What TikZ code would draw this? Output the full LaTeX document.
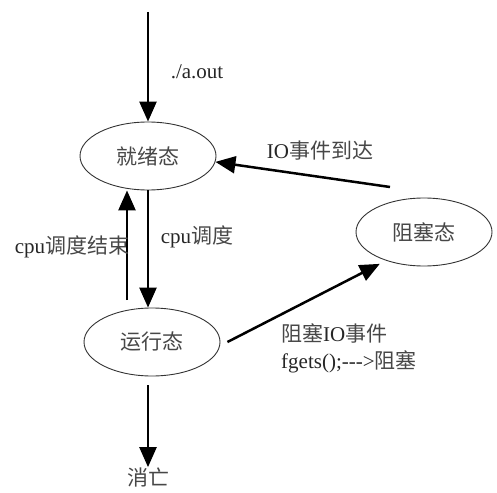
\documentclass[tikz,border=0pt]{standalone}
\usepackage{fontspec}
\setmainfont{Liberation Serif}
\newfontfamily\zhfont{Noto Sans CJK SC}
\usetikzlibrary{arrows.meta, shapes.geometric}
\newcommand{\zh}[1]{{\zhfont\color{black!72}#1}}

\begin{document}
\begin{tikzpicture}[
  x=1pt, y=-1pt,
  state/.style={draw=black!80, ellipse, line width=0.9pt,
                minimum width=136pt, minimum height=68pt,
                font=\fontsize{21}{25}\selectfont},
  arrow/.style={-{Triangle[length=20pt,width=17pt]}, line width=2.5pt},
  label/.style={font=\fontsize{21}{27}\selectfont, text=black!85, inner sep=1pt}
]
\useasboundingbox (0,0) rectangle (497,492);

%% ---- states ----
\node[state] (ready)   at (148,156) {\zh{就绪态}};
\node[state] (blocked) at (424,232) {\zh{阻塞态}};
\node[state] (running) at (152,342) {\zh{运行态}};
\node[label] (dead)    at (148,478) {\zh{消亡}};

%% ---- free ends ----
\coordinate (start)  at (148,12);
\coordinate (back)   at (127,300);
\coordinate (wakeup) at (390,187);

%% ---- transitions ----
\draw[arrow] (start) -- (ready);
\draw[arrow] (ready.south) -- (ready.south |- running.north);
\draw[arrow] (back) -- (back |- ready.south);
\draw[arrow] (wakeup) -- (ready.355);
\draw[arrow, shorten >=7pt] ([xshift=7pt]running.east) -- (blocked.217);
\draw[arrow] ([yshift=-9pt]dead.north |- running.south) -- (dead.north);

%% ---- labels ----
\node[label] (aout)   at (197,72)  {./a.out};
\node[label] (ioin)   at (320,151) {IO\zh{事件到达}};
\node[label] (sched)  at (197,237) {cpu\zh{调度}};
\node[label] (unsch)  at (72,247)  {cpu\zh{调度结束}};
\node[label, anchor=west, align=left] (ioout) at (280,348)
  {\zh{阻塞}IO\zh{事件}\\fgets();-{}-{}-{>}\zh{阻塞}};

\end{tikzpicture}
\end{document}
